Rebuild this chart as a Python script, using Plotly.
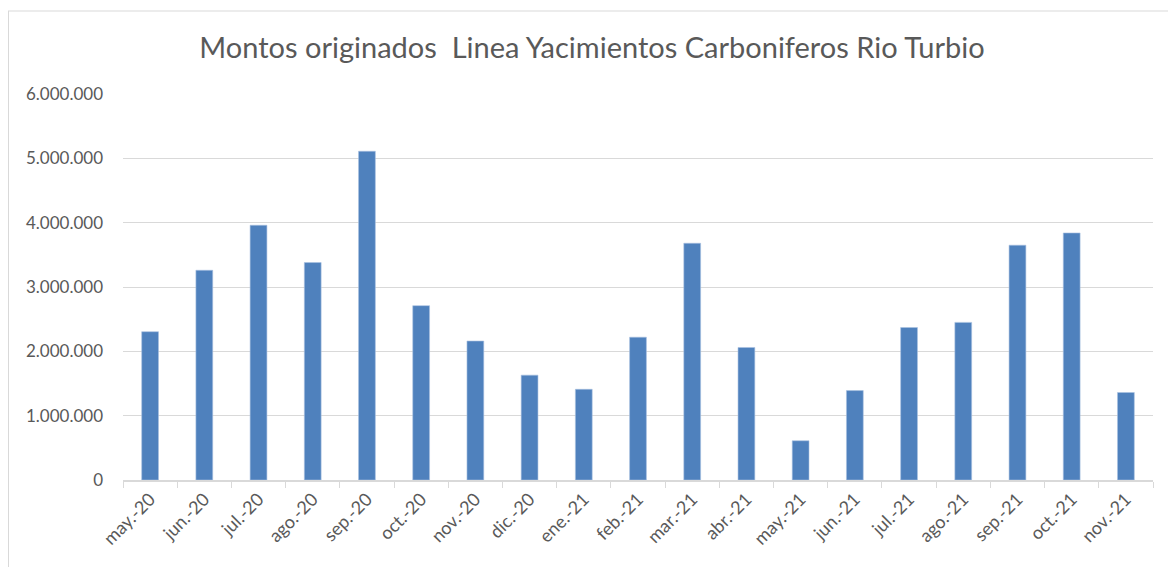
import plotly.graph_objects as go

categories = ["may.-20", "jun.-20", "jul.-20", "ago.-20", "sep.-20", "oct.-20",
              "nov.-20", "dic.-20", "ene.-21", "feb.-21", "mar.-21", "abr.-21",
              "may.-21", "jun.-21", "jul.-21", "ago.-21", "sep.-21", "oct.-21", "nov.-21"]
montos = [2305000, 3260000, 3960000, 3380000, 5110000, 2710000,
          2160000, 1630000, 1410000, 2220000, 3680000, 2060000,
          610000, 1390000, 2370000, 2450000, 3650000, 3840000, 1360000]
y_ticks = [0, 1000000, 2000000, 3000000, 4000000, 5000000, 6000000]

title_text = "Montos originados  Linea Yacimientos Carboniferos Rio Turbio"

FONT = "Lato"
GREY = "#595959"

# the page body adds an 8px offset; work in reference pixels and shift
OFF = 8
W, H = 1176 - OFF, 567 - OFF
L, R, T, B = 123 - OFF, 1153 - OFF, 94 - OFF, 480 - OFF

fig = go.Figure()
fig.add_trace(go.Bar(
    x=categories, y=montos,
    marker=dict(color="#4F81BD", line=dict(color="#A9C1E0", width=0.6)),
    width=0.31,
))

def px_x(p):
    return (p - OFF - L) / (R - L)

def px_y(p):
    return (B - (p - OFF)) / (B - T)

fig.update_layout(
    width=W, height=H,
    margin=dict(l=L, r=W - R, t=T, b=H - B, pad=0),
    paper_bgcolor="white", plot_bgcolor="white",
    separators=",.",
    showlegend=False,
    title=dict(text=title_text, xref="container", x=(592 - OFF) / W, xanchor="center",
               yref="container", y=1 - (48 - OFF) / H, yanchor="middle",
               font=dict(family=FONT, size=29, color=GREY)),
    xaxis=dict(
        type="category",
        showline=True, linecolor="#D9D9D9", linewidth=1.5,
        ticks="outside", tickson="boundaries", ticklen=6, tickcolor="#D9D9D9",
        tickangle=-45,
        tickfont=dict(family=FONT, size=18, color=GREY),
        showgrid=False,
    ),
    yaxis=dict(
        range=[0, 6000000],
        tickvals=y_ticks,
        tickformat=",d",
        showgrid=True, gridcolor="#D9D9D9", gridwidth=1,
        zeroline=False, showline=False,
        ticks="", ticklabelstandoff=19,
        tickfont=dict(family=FONT, size=17, color=GREY),
    ),
    shapes=[
        dict(type="line", xref="paper", yref="paper",
             x0=px_x(8), x1=px_x(1200), y0=px_y(11), y1=px_y(11),
             line=dict(color="#D9D9D9", width=1)),
        dict(type="line", xref="paper", yref="paper",
             x0=px_x(8.5), x1=px_x(8.5), y0=px_y(11), y1=px_y(600),
             line=dict(color="#D9D9D9", width=1)),
    ],
)

fig.write_html("out.html")
